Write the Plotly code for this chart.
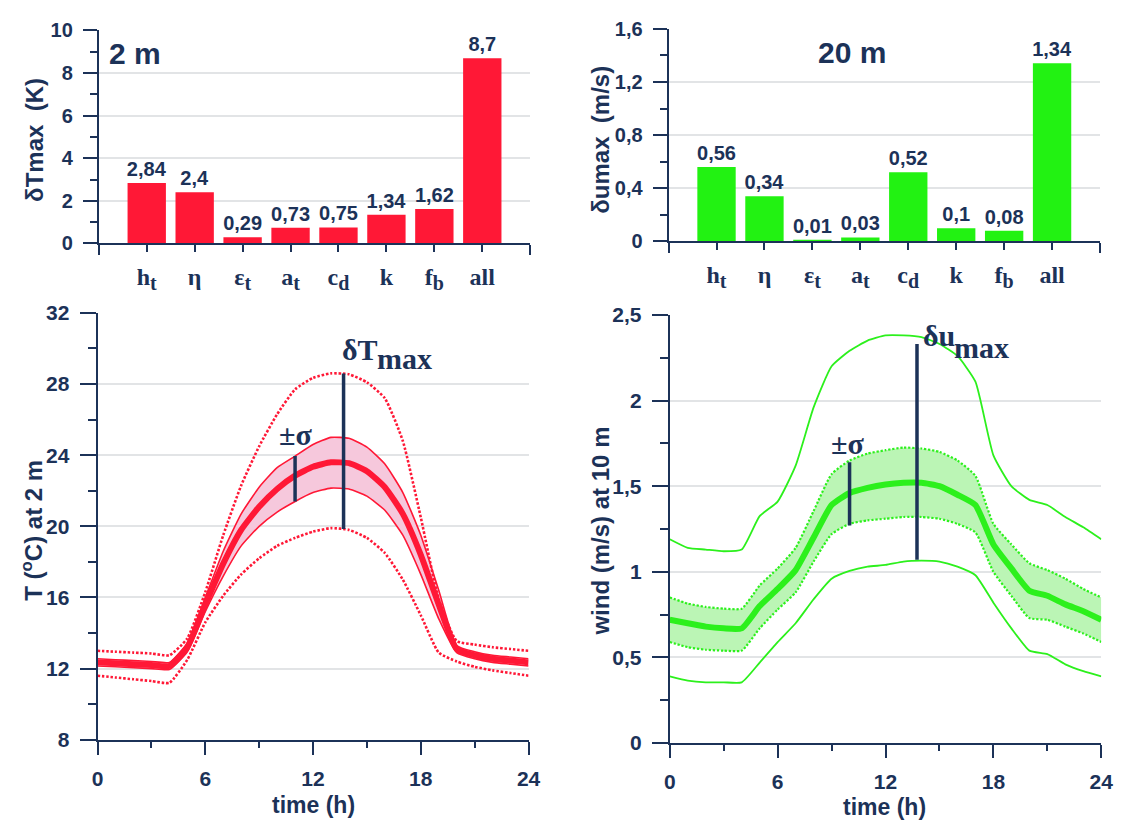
import plotly.graph_objects as go

# ---- colours and fonts -------------------------------------------------
NAVY = "#1c3258"
RED = "#ff1836"
PINK = "#f6c8dc"
GREEN_BAR = "#22f212"
GREEN = "#2cf01c"
LIGHT_GREEN = "#bbf5b5"
GRID = "#e2e4e6"
SANS = "Liberation Sans"
SERIF = "Liberation Serif"

# ---- sensitivity bars --------------------------------------------------
categories = [
    "h<sub><span style='font-size:20px'>t</span></sub>",
    "η",
    "ε<sub><span style='font-size:20px'>t</span></sub>",
    "a<sub><span style='font-size:20px'>t</span></sub>",
    "c<sub><span style='font-size:20px'>d</span></sub>",
    "k",
    "f<sub><span style='font-size:20px'>b</span></sub>",
    "all",
]
dT_max_2m = [2.84, 2.4, 0.29, 0.73, 0.75, 1.34, 1.62, 8.7]
du_max_20m = [0.56, 0.34, 0.01, 0.03, 0.52, 0.1, 0.08, 1.34]

# ---- diurnal cycle of 2 m temperature (degC) ---------------------------
hours = list(range(25))
T_mean = [12.35, 12.3, 12.25, 12.2, 12.15, 13.2, 15.6, 17.9, 19.8, 21.1, 22.1, 22.85,
          23.35, 23.6, 23.55, 23.1, 22.2, 20.7, 18.4, 15.6, 13.1, 12.75, 12.55, 12.45, 12.35]
T_sigma_hi = [12.55, 12.5, 12.45, 12.4, 12.35, 13.45, 16.0, 18.6, 20.7, 22.2, 23.3, 23.95,
              24.6, 25.0, 24.95, 24.45, 23.5, 21.9, 19.5, 16.4, 13.3, 12.95, 12.75, 12.65, 12.55]
T_sigma_lo = [12.15, 12.1, 12.05, 12.0, 11.95, 12.95, 15.2, 17.2, 18.9, 20.0, 20.8, 21.4,
              21.9, 22.15, 22.1, 21.7, 20.9, 19.5, 17.3, 14.8, 12.9, 12.55, 12.35, 12.25, 12.15]
T_env_hi = [13.0, 12.95, 12.9, 12.85, 12.75, 13.7, 16.3, 19.5, 22.3, 24.5, 26.3, 27.7,
            28.35, 28.6, 28.55, 28.1, 27.2, 24.8, 20.5, 15.9, 13.55, 13.35, 13.2, 13.1, 13.0]
T_env_lo = [11.6, 11.5, 11.4, 11.3, 11.2, 12.5, 14.6, 16.1, 17.3, 18.2, 18.9, 19.35,
            19.7, 19.9, 19.8, 19.35, 18.5, 17.0, 15.0, 12.9, 12.4, 12.1, 11.9, 11.75, 11.6]
T_sigma_bar = {"hour": 11.0, "lo": 21.4, "hi": 23.95}
T_spread_bar = {"hour": 13.7, "lo": 19.85, "hi": 28.6}

# ---- diurnal cycle of 10 m wind speed (m/s) ----------------------------
U_mean = [0.72, 0.70, 0.68, 0.67, 0.67, 0.80, 0.90, 1.01, 1.20, 1.39, 1.46, 1.49,
          1.51, 1.52, 1.52, 1.50, 1.45, 1.39, 1.16, 1.02, 0.89, 0.86, 0.81, 0.77, 0.72]
U_sigma_hi = [0.85, 0.815, 0.795, 0.785, 0.785, 0.92, 1.02, 1.14, 1.355, 1.57, 1.65, 1.69,
              1.71, 1.725, 1.72, 1.70, 1.65, 1.56, 1.28, 1.16, 1.05, 1.01, 0.96, 0.90, 0.85]
U_sigma_lo = [0.59, 0.56, 0.545, 0.54, 0.54, 0.67, 0.78, 0.88, 1.06, 1.22, 1.28, 1.30,
              1.31, 1.32, 1.32, 1.31, 1.28, 1.23, 1.00, 0.86, 0.73, 0.72, 0.68, 0.64, 0.59]
U_env_hi = [1.19, 1.14, 1.13, 1.12, 1.13, 1.325, 1.41, 1.62, 1.96, 2.20, 2.29, 2.35,
            2.38, 2.38, 2.37, 2.33, 2.26, 2.11, 1.68, 1.50, 1.42, 1.39, 1.32, 1.26, 1.19]
U_env_lo = [0.39, 0.365, 0.355, 0.355, 0.355, 0.47, 0.59, 0.70, 0.84, 0.96, 1.005, 1.03,
            1.04, 1.06, 1.065, 1.06, 1.03, 0.98, 0.82, 0.67, 0.54, 0.52, 0.46, 0.42, 0.39]
U_sigma_bar = {"hour": 10.0, "lo": 1.27, "hi": 1.64}
U_spread_bar = {"hour": 13.75, "lo": 1.07, "hi": 2.33}

fig = go.Figure()

bar_pos = list(range(1, len(categories) + 1))


def comma(v):
    return f"{v:g}".replace(".", ",")


def add_bars(values, color, xa, ya):
    fig.add_trace(go.Bar(
        x=bar_pos, y=values, xaxis=xa, yaxis=ya, width=0.8,
        marker=dict(color=color, line=dict(width=0)),
        text=[comma(v) for v in values], textposition="outside",
        textfont=dict(family=SANS, size=20, color=NAVY, weight="bold"),
        constraintext="none", cliponaxis=False, hoverinfo="skip",
    ))


add_bars(dT_max_2m, RED, "x", "y")
add_bars(du_max_20m, GREEN_BAR, "x2", "y2")


def line(y, xa, ya, color, width, dash="solid", fill=None, fillcolor=None):
    fig.add_trace(go.Scatter(
        x=hours, y=y, xaxis=xa, yaxis=ya, mode="lines",
        line=dict(color=color, width=width, dash=dash, shape="spline", smoothing=0.5),
        fill=fill, fillcolor=fillcolor, hoverinfo="skip",
    ))


def vbar(spec, xa, ya):
    fig.add_trace(go.Scatter(
        x=[spec["hour"], spec["hour"]], y=[spec["lo"], spec["hi"]],
        xaxis=xa, yaxis=ya, mode="lines",
        line=dict(color=NAVY, width=3.5), hoverinfo="skip",
    ))


# temperature panel
line(T_sigma_lo, "x3", "y3", "rgba(0,0,0,0)", 0)
line(T_sigma_hi, "x3", "y3", "rgba(0,0,0,0)", 0, fill="tonexty", fillcolor=PINK)
line(T_sigma_lo, "x3", "y3", RED, 1.6)
line(T_sigma_hi, "x3", "y3", RED, 1.6)
line(T_env_hi, "x3", "y3", RED, 2.6, dash="2.5px,1.8px")
line(T_env_lo, "x3", "y3", RED, 2.6, dash="2.5px,1.8px")
line(T_mean, "x3", "y3", RED, 6)
vbar(T_sigma_bar, "x3", "y3")
vbar(T_spread_bar, "x3", "y3")

# wind panel
line(U_sigma_lo, "x4", "y4", "rgba(0,0,0,0)", 0)
line(U_sigma_hi, "x4", "y4", "rgba(0,0,0,0)", 0, fill="tonexty", fillcolor=LIGHT_GREEN)
line(U_sigma_lo, "x4", "y4", GREEN, 2.2, dash="2.2px,1.8px")
line(U_sigma_hi, "x4", "y4", GREEN, 2.2, dash="2.2px,1.8px")
line(U_env_hi, "x4", "y4", GREEN, 1.8)
line(U_env_lo, "x4", "y4", GREEN, 1.8)
line(U_mean, "x4", "y4", GREEN, 6)
vbar(U_sigma_bar, "x4", "y4")
vbar(U_spread_bar, "x4", "y4")

# ---- axes --------------------------------------------------------------
W, H = 1131, 829


def xdom(a, b):
    return [a / W, b / W]


def ydom(bottom, top):
    return [1 - bottom / H, 1 - top / H]


common = dict(showline=True, linecolor=NAVY, linewidth=2, ticks="outside",
              tickcolor=NAVY, tickwidth=2, zeroline=False, fixedrange=True)
num_font = dict(family=SANS, size=20, color=NAVY, weight="bold")
num_font_big = dict(family=SANS, size=21, color=NAVY, weight="bold")


def bar_xaxis(dom, anchor):
    return dict(common, domain=dom, anchor=anchor, range=[0, 9],
                tickvals=bar_pos, ticktext=categories,
                ticklen=7, showgrid=False, ticklabelstandoff=4,
                tickfont=dict(family=SERIF, size=24, color=NAVY, weight="bold"),
                minor=dict(tickvals=[0, 9], ticks="outside", ticklen=10,
                           tickwidth=2, tickcolor=NAVY, showgrid=False))


def yaxis(dom, anchor, rng, vals, texts, minor_vals, font, ticklen):
    return dict(common, domain=dom, anchor=anchor, range=rng,
                tickvals=vals, ticktext=texts, ticklen=ticklen,
                showgrid=True, gridcolor=GRID, gridwidth=1.5,
                tickfont=font, ticklabelstandoff=6,
                minor=dict(tickvals=minor_vals, ticks="outside", ticklen=ticklen // 2,
                           tickwidth=2, tickcolor=NAVY, showgrid=False))


def time_xaxis(dom, anchor):
    return dict(common, domain=dom, anchor=anchor, range=[0, 24],
                tickvals=[0, 6, 12, 18, 24], ticktext=["0", "6", "12", "18", "24"],
                ticklen=13, showgrid=False, tickfont=num_font_big, ticklabelstandoff=6,
                minor=dict(tickvals=[3, 9, 15, 21], ticks="outside", ticklen=6,
                           tickwidth=2, tickcolor=NAVY, showgrid=False))


fig.update_layout(
    width=W, height=H, margin=dict(l=0, r=0, t=0, b=0),
    paper_bgcolor="white", plot_bgcolor="white", showlegend=False,
    xaxis=bar_xaxis(xdom(94.3, 532.7), "y"),
    yaxis=yaxis(ydom(238, 19), "x", [0, 10], [0, 2, 4, 6, 8, 10],
                ["0", "2", "4", "6", "8", "10"], [1, 3, 5, 7, 9], num_font, 14),
    xaxis2=bar_xaxis(xdom(673.3, 1111.7), "y2"),
    yaxis2=yaxis(ydom(236, 17.3), "x2", [0, 1.6], [0, 0.4, 0.8, 1.2, 1.6],
                 ["0", "0,4", "0,8", "1,2", "1,6"], [0.2, 0.6, 1.0, 1.4], num_font, 14),
    xaxis3=time_xaxis(xdom(93, 531), "y3"),
    yaxis3=yaxis(ydom(748.5, 309.5), "x3", [8, 32], [8, 12, 16, 20, 24, 28, 32],
                 ["8", "12", "16", "20", "24", "28", "32"], [10, 14, 18, 22, 26, 30],
                 num_font_big, 16),
    xaxis4=time_xaxis(xdom(674.5, 1113), "y4"),
    yaxis4=yaxis(ydom(752, 311.5), "x4", [0, 2.5], [0, 0.5, 1, 1.5, 2, 2.5],
                 ["0", "0,5", "1", "1,5", "2", "2,5"], [0.25, 0.75, 1.25, 1.75, 2.25],
                 num_font_big, 16),
)

# ---- text --------------------------------------------------------------
def paper_text(text, x, y, size, angle=0, family=SANS):
    fig.add_annotation(text=text, x=x / W, y=1 - y / H, xref="paper", yref="paper",
                       showarrow=False, textangle=angle, xanchor="center", yanchor="middle",
                       font=dict(family=family, size=size, color=NAVY, weight="bold"))


def data_text(text, x, y, xa, ya, size, xanchor="center"):
    fig.add_annotation(text=text, x=x, y=y, xref=xa, yref=ya, showarrow=False,
                       xanchor=xanchor, yanchor="middle",
                       font=dict(family=SERIF, size=size, color=NAVY, weight="bold"))


paper_text("2 m", 131, 43, 30)
paper_text("20 m", 860, 42, 30)
paper_text("δTmax  (K)", 29, 132, 24, angle=-90)
paper_text("δumax  (m/s)", 604, 131, 24, angle=-90)
paper_text("T (<sup>o</sup>C) at 2 m", 27, 533, 24, angle=-90)
paper_text("wind (m/s) at 10 m", 604, 534, 24, angle=-90)
paper_text("time (h)", 312, 816, 23)
paper_text("time (h)", 893, 818, 23)

data_text("±σ", 11.0, 25.15, "x3", "y3", 30)
data_text("δT", 13.5, 29.95, "x3", "y3", 30, xanchor="left")
data_text("max", 15.45, 29.45, "x3", "y3", 30, xanchor="left")
data_text("±σ", 9.9, 1.75, "x4", "y4", 30)
data_text("δu", 13.95, 2.38, "x4", "y4", 30, xanchor="left")
data_text("max", 15.7, 2.31, "x4", "y4", 30, xanchor="left")

fig.write_html("out.html")
